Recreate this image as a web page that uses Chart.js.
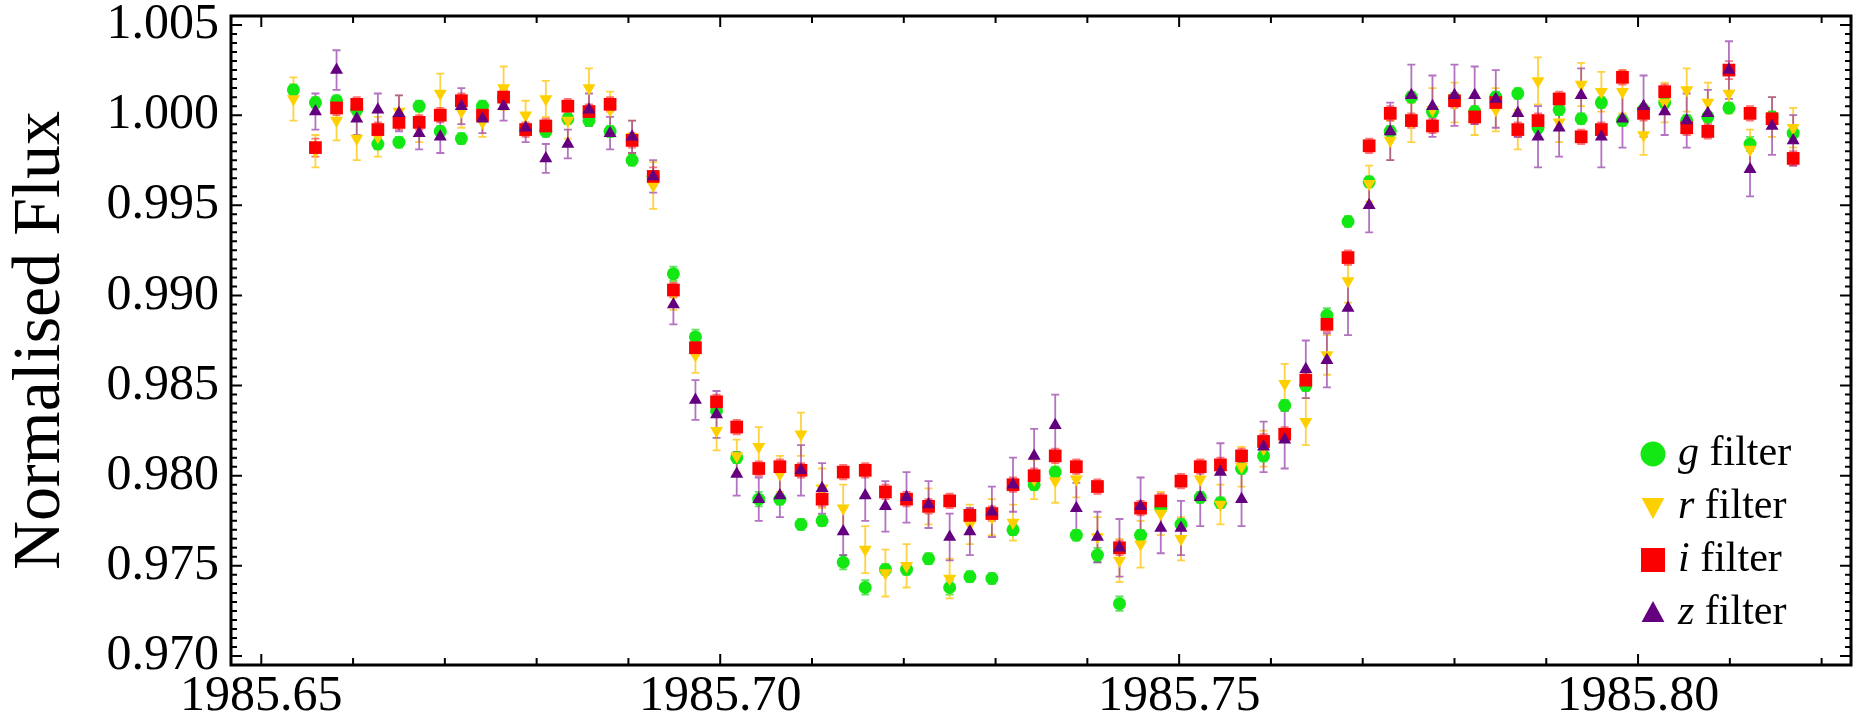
<!DOCTYPE html>
<html>
<head>
<meta charset="utf-8">
<script src="https://cdn.jsdelivr.net/npm/chart.js@4.4.1/dist/chart.umd.min.js"></script>
<style>
  html, body { margin: 0; padding: 0; background: #fff; }
  #wrap { width: 1864px; height: 721px; }
</style>
</head>
<body>
<div id="wrap"><canvas id="lc"></canvas></div>
<script>
// epochs (decimal year)
const times = [
  1985.6535, 1985.6559, 1985.6582, 1985.6604, 1985.6627, 1985.6650, 1985.6672, 1985.6695, 1985.6718, 1985.6741, 1985.6764, 1985.6788,
  1985.6810, 1985.6834, 1985.6857, 1985.6880, 1985.6904, 1985.6927, 1985.6949, 1985.6973, 1985.6996, 1985.7018, 1985.7042, 1985.7065,
  1985.7088, 1985.7111, 1985.7134, 1985.7158, 1985.7180, 1985.7203, 1985.7227, 1985.7250, 1985.7272, 1985.7296, 1985.7319, 1985.7342,
  1985.7365, 1985.7388, 1985.7411, 1985.7435, 1985.7458, 1985.7480, 1985.7502, 1985.7523, 1985.7545, 1985.7568, 1985.7592, 1985.7615,
  1985.7638, 1985.7661, 1985.7684, 1985.7707, 1985.7730, 1985.7753, 1985.7776, 1985.7800, 1985.7822, 1985.7845, 1985.7869, 1985.7891,
  1985.7914, 1985.7938, 1985.7960, 1985.7983, 1985.8006, 1985.8029, 1985.8053, 1985.8076, 1985.8099, 1985.8122, 1985.8146, 1985.8169,
];

const gFlux = [
  1.0014, 1.0007, 1.0008, 1.0003, 0.9984, 0.9985, 1.0005, 0.9991, 0.9987, 1.0005, 1.0010, 0.9992,
  0.9991, 0.9998, 0.9997, 0.9991, 0.9975, 0.9966, 0.9912, 0.9877, 0.9836, 0.9810, 0.9787, 0.9787,
  0.9773, 0.9775, 0.9752, 0.9738, 0.9748, 0.9748, 0.9754, 0.9738, 0.9744, 0.9743, 0.9770, 0.9795,
  0.9802, 0.9767, 0.9756, 0.9729, 0.9767, 0.9782, 0.9773, 0.9788, 0.9785, 0.9804, 0.9811, 0.9839,
  0.9850, 0.9889, 0.9941, 0.9963, 0.9991, 1.0010, 1.0002, 1.0009, 1.0002, 1.0010, 1.0012, 0.9993,
  1.0003, 0.9998, 1.0007, 0.9997, 1.0003, 1.0007, 0.9997, 0.9999, 1.0004, 0.9984, 0.9999, 0.9990,
];
const rFlux = [
  1.0009, 0.9980, 0.9997, 0.9987, 0.9988, 1.0002, 0.9994, 1.0012, 1.0002, 0.9996, 1.0015, 1.0000,
  1.0009, 0.9997, 1.0015, 1.0003, 0.9988, 0.9961, 0.9901, 0.9867, 0.9825, 0.9811, 0.9816, 0.9801,
  0.9823, 0.9793, 0.9782, 0.9759, 0.9746, 0.9750, 0.9783, 0.9743, 0.9773, 0.9777, 0.9774, 0.9798,
  0.9797, 0.9798, 0.9766, 0.9753, 0.9762, 0.9779, 0.9765, 0.9798, 0.9784, 0.9805, 0.9815, 0.9851,
  0.9830, 0.9867, 0.9908, 0.9962, 0.9986, 0.9996, 1.0003, 1.0007, 1.0000, 1.0003, 0.9992, 1.0019,
  0.9996, 1.0017, 1.0013, 1.0013, 0.9989, 1.0007, 1.0014, 1.0007, 1.0012, 0.9981, 0.9999, 0.9993,
];
const iFlux = [
  null,   0.9982, 1.0004, 1.0006, 0.9992, 0.9996, 0.9996, 1.0000, 1.0008, 1.0000, 1.0010, 0.9992,
  0.9994, 1.0005, 1.0002, 1.0006, 0.9986, 0.9966, 0.9903, 0.9871, 0.9841, 0.9827, 0.9804, 0.9805,
  0.9803, 0.9787, 0.9802, 0.9803, 0.9791, 0.9787, 0.9783, 0.9786, 0.9778, 0.9779, 0.9795, 0.9800,
  0.9811, 0.9805, 0.9794, 0.9760, 0.9782, 0.9786, 0.9797, 0.9805, 0.9806, 0.9811, 0.9819, 0.9823,
  0.9853, 0.9884, 0.9921, 0.9983, 1.0001, 0.9997, 0.9994, 1.0008, 0.9999, 1.0007, 0.9992, 0.9997,
  1.0009, 0.9988, 0.9992, 1.0021, 1.0001, 1.0013, 0.9993, 0.9991, 1.0025, 1.0001, 0.9998, 0.9976,
];
const zFlux = [
  null,   1.0002, 1.0025, 0.9998, 1.0003, 1.0001, 0.9990, 0.9988, 1.0005, 0.9998, 1.0005, 0.9993,
  0.9976, 0.9984, 1.0003, 0.9990, 0.9988, 0.9966, 0.9895, 0.9842, 0.9834, 0.9801, 0.9787, 0.9789,
  0.9803, 0.9793, 0.9769, 0.9789, 0.9783, 0.9788, 0.9784, 0.9766, 0.9769, 0.9780, 0.9795, 0.9811,
  0.9828, 0.9782, 0.9766, 0.9760, 0.9783, 0.9771, 0.9771, 0.9788, 0.9802, 0.9787, 0.9816, 0.9820,
  0.9859, 0.9864, 0.9893, 0.9950, 0.9991, 1.0011, 1.0005, 1.0011, 1.0011, 1.0009, 1.0001, 0.9988,
  0.9993, 1.0011, 0.9988, 0.9998, 1.0005, 1.0002, 0.9997, 1.0001, 1.0025, 0.9970, 0.9994, 0.9986,
];

// half-lengths of the error bars
const gErr = [
  0.0003, 0.0003, 0.0003, 0.0003, 0.0003, 0.0003, 0.0003, 0.0003, 0.0003, 0.0003, 0.0003, 0.0003,
  0.0003, 0.0003, 0.0003, 0.0003, 0.0003, 0.0003, 0.0004, 0.0004, 0.0003, 0.0003, 0.0004, 0.0003,
  0.0003, 0.0003, 0.0004, 0.0004, 0.0003, 0.0003, 0.0003, 0.0004, 0.0003, 0.0003, 0.0003, 0.0003,
  0.0003, 0.0003, 0.0004, 0.0004, 0.0003, 0.0003, 0.0003, 0.0003, 0.0003, 0.0003, 0.0003, 0.0003,
  0.0003, 0.0004, 0.0003, 0.0003, 0.0003, 0.0003, 0.0003, 0.0003, 0.0003, 0.0003, 0.0003, 0.0003,
  0.0003, 0.0003, 0.0003, 0.0003, 0.0003, 0.0003, 0.0003, 0.0003, 0.0003, 0.0004, 0.0003, 0.0003,
];
const rErr = [
  0.0012, 0.0009, 0.0011, 0.0012, 0.0011, 0.0009, 0.0009, 0.0011, 0.0009, 0.0008, 0.0012, 0.0008,
  0.0010, 0.0010, 0.0011, 0.0010, 0.0009, 0.0013, 0.0009, 0.0010, 0.0011, 0.0009, 0.0011, 0.0010,
  0.0012, 0.0011, 0.0013, 0.0013, 0.0013, 0.0012, 0.0010, 0.0011, 0.0011, 0.0010, 0.0010, 0.0011,
  0.0012, 0.0010, 0.0011, 0.0012, 0.0013, 0.0012, 0.0012, 0.0010, 0.0011, 0.0011, 0.0010, 0.0011,
  0.0013, 0.0011, 0.0012, 0.0010, 0.0011, 0.0011, 0.0012, 0.0011, 0.0011, 0.0012, 0.0011, 0.0013,
  0.0011, 0.0012, 0.0011, 0.0012, 0.0011, 0.0011, 0.0012, 0.0011, 0.0011, 0.0011, 0.0011, 0.0011,
];
const iErr = [
  null,   0.0005, 0.0004, 0.0004, 0.0004, 0.0004, 0.0004, 0.0004, 0.0004, 0.0004, 0.0004, 0.0004,
  0.0004, 0.0004, 0.0004, 0.0004, 0.0004, 0.0005, 0.0004, 0.0004, 0.0004, 0.0004, 0.0004, 0.0004,
  0.0004, 0.0004, 0.0004, 0.0004, 0.0004, 0.0004, 0.0004, 0.0004, 0.0004, 0.0004, 0.0004, 0.0004,
  0.0004, 0.0004, 0.0004, 0.0004, 0.0004, 0.0004, 0.0004, 0.0004, 0.0004, 0.0004, 0.0004, 0.0004,
  0.0004, 0.0004, 0.0004, 0.0004, 0.0004, 0.0004, 0.0004, 0.0004, 0.0004, 0.0004, 0.0004, 0.0004,
  0.0004, 0.0004, 0.0004, 0.0004, 0.0004, 0.0004, 0.0004, 0.0004, 0.0005, 0.0004, 0.0004, 0.0004,
];
const zErr = [
  null,   0.0010, 0.0011, 0.0009, 0.0009, 0.0010, 0.0009, 0.0009, 0.0010, 0.0008, 0.0008, 0.0008,
  0.0008, 0.0008, 0.0009, 0.0009, 0.0009, 0.0009, 0.0011, 0.0011, 0.0013, 0.0012, 0.0012, 0.0012,
  0.0014, 0.0014, 0.0013, 0.0014, 0.0014, 0.0014, 0.0013, 0.0013, 0.0013, 0.0014, 0.0015, 0.0015,
  0.0017, 0.0014, 0.0014, 0.0016, 0.0016, 0.0014, 0.0015, 0.0016, 0.0016, 0.0015, 0.0014, 0.0016,
  0.0016, 0.0015, 0.0015, 0.0015, 0.0016, 0.0017, 0.0017, 0.0017, 0.0016, 0.0016, 0.0013, 0.0017,
  0.0016, 0.0015, 0.0017, 0.0016, 0.0017, 0.0013, 0.0015, 0.0013, 0.0016, 0.0015, 0.0016, 0.0014,
];

const xTickLabels = [1985.65, 1985.70, 1985.75, 1985.80];
const yTickLabels = [0.970, 0.975, 0.980, 0.985, 0.990, 0.995, 1.000, 1.005];

const serif = "'Liberation Serif', 'Times New Roman', serif";

const filters = [
  { letter: 'g', flux: gFlux, err: gErr, color: 'rgb(20,232,20)', bar: 'rgba(30,215,30,0.7)', style: 'circle', radius: 6.5, rot: 0, order: 4 },
  { letter: 'r', flux: rFlux, err: rErr, color: 'rgb(255,208,0)', bar: 'rgba(255,195,0,0.75)', style: 'triangle', radius: 7.5, rot: 180, order: 3 },
  { letter: 'i', flux: iFlux, err: iErr, color: 'rgb(250,0,0)', bar: 'rgba(255,60,60,0.7)', style: 'rect', radius: 9, rot: 0, order: 2 },
  { letter: 'z', flux: zFlux, err: zErr, color: 'rgb(100,0,128)', bar: 'rgba(145,55,165,0.7)', style: 'triangle', radius: 7.5, rot: 0, order: 1 },
];

// error bars under the markers
const errorBars = {
  id: 'errorBars',
  beforeDatasetsDraw(chart) {
    const { ctx, scales: { x, y } } = chart;
    ctx.save();
    ctx.lineWidth = 1.8;
    filters.forEach(f => {
      ctx.strokeStyle = f.bar;
      f.flux.forEach((v, k) => {
        if (v === null) return;
        const px = x.getPixelForValue(times[k]);
        const lo = y.getPixelForValue(v - f.err[k]);
        const hi = y.getPixelForValue(v + f.err[k]);
        ctx.beginPath();
        ctx.moveTo(px, lo); ctx.lineTo(px, hi);
        ctx.moveTo(px - 4, lo); ctx.lineTo(px + 4, lo);
        ctx.moveTo(px - 4, hi); ctx.lineTo(px + 4, hi);
        ctx.stroke();
      });
    });
    ctx.restore();
  },
};

// mathematica style frame with inward ticks on all sides
const frame = {
  id: 'frame',
  afterDatasetsDraw(chart) {
    const { ctx, chartArea: a, scales: { x, y } } = chart;
    ctx.save();
    ctx.strokeStyle = '#000';
    ctx.lineWidth = 2;
    ctx.beginPath();
    for (let k = Math.ceil(x.min / 0.01 - 1e-6); k * 0.01 <= x.max + 1e-9; k++) {
      const px = x.getPixelForValue(k * 0.01);
      const len = k % 5 === 0 ? 11 : 7;
      ctx.moveTo(px, a.bottom); ctx.lineTo(px, a.bottom - len);
      ctx.moveTo(px, a.top); ctx.lineTo(px, a.top + len);
    }
    for (let k = Math.ceil(y.min / 0.0005 - 1e-6); k * 0.0005 <= y.max + 1e-9; k++) {
      const py = y.getPixelForValue(k * 0.0005);
      const len = k % 10 === 0 ? 11 : 6;
      ctx.moveTo(a.left, py); ctx.lineTo(a.left + len, py);
      ctx.moveTo(a.right, py); ctx.lineTo(a.right - len, py);
    }
    ctx.stroke();
    ctx.lineWidth = 3;
    ctx.strokeRect(a.left, a.top, a.width, a.height);
    ctx.restore();
  },
};

const drawMarker = (ctx, f, cx, cy, r) => {
  ctx.beginPath();
  if (f.style === 'circle') {
    ctx.arc(cx, cy, r, 0, Math.PI * 2);
  } else if (f.style === 'rect') {
    ctx.rect(cx - r, cy - r, 2 * r, 2 * r);
  } else {
    const s = f.rot ? -1 : 1;
    ctx.moveTo(cx, cy - s * r);
    ctx.lineTo(cx + r * 0.95, cy + s * r * 0.75);
    ctx.lineTo(cx - r * 0.95, cy + s * r * 0.75);
    ctx.closePath();
  }
  ctx.fillStyle = f.color;
  ctx.fill();
};

const legendBox = {
  id: 'legendBox',
  afterDraw(chart) {
    const { ctx, chartArea: a } = chart;
    const x0 = a.right - 198;
    ctx.save();
    ctx.textBaseline = 'middle';
    filters.forEach((f, k) => {
      const cy = a.bottom - 211 + k * 53;
      drawMarker(ctx, f, x0, cy, f.style === 'circle' ? 12.5 : 12);
      ctx.fillStyle = '#000';
      ctx.font = 'italic 42px ' + serif;
      ctx.fillText(f.letter, x0 + 25, cy);
      const w = ctx.measureText(f.letter).width;
      ctx.font = '42px ' + serif;
      ctx.fillText(' filter', x0 + 25 + w, cy);
    });
    ctx.restore();
  },
};

let chart = null;
let drawChart = () => {
  const ctx = document.getElementById('lc');
  if (chart) chart.destroy();

  chart = new Chart(ctx, {
    type: 'scatter',
    data: {
      datasets: filters.map(f => ({
        label: f.letter + ' filter',
        data: times.map((t, k) => ({ x: t, y: f.flux[k] })),
        backgroundColor: f.color,
        borderColor: f.color,
        pointStyle: f.style,
        pointRadius: f.radius,
        pointRotation: f.rot,
        pointBorderWidth: 0,
        order: f.order,
      })),
    },
    options: {
      animation: false,
      responsive: true,
      maintainAspectRatio: false,
      layout: { padding: { top: 16, right: 13, left: 0, bottom: 0 } },
      plugins: {
        legend: { display: false },
        tooltip: { enabled: false },
      },
      scales: {
        x: {
          type: 'linear',
          min: 1985.6467,
          max: 1985.8232,
          grid: { display: false, drawTicks: false },
          border: { display: false },
          afterBuildTicks: s => { s.ticks = xTickLabels.map(v => ({ value: v })); },
          afterFit: s => {
            s.height = 56;
            s.paddingLeft = 0;
            s.paddingRight = 0;
          },
          ticks: {
            autoSkip: false,
            maxRotation: 0,
            padding: 2,
            color: '#000',
            font: { family: serif, size: 50 },
            callback: v => v.toFixed(2),
          },
        },
        y: {
          min: 0.9695,
          max: 1.0055,
          grid: { display: false, drawTicks: false },
          border: { display: false },
          afterBuildTicks: s => { s.ticks = yTickLabels.map(v => ({ value: v })); },
          afterFit: s => {
            s.width = 231;
            s.paddingTop = 0;
            s.paddingBottom = 0;
          },
          ticks: {
            padding: 12,
            color: '#000',
            font: { family: serif, size: 50 },
            callback: v => v.toFixed(3),
          },
          title: {
            display: true,
            text: 'Normalised Flux',
            color: '#000',
            padding: 0,
            font: { family: serif, size: 68 },
          },
        },
      },
    },
    plugins: [errorBars, frame, legendBox],
  });
};

drawChart();
</script>
</body>
</html>
